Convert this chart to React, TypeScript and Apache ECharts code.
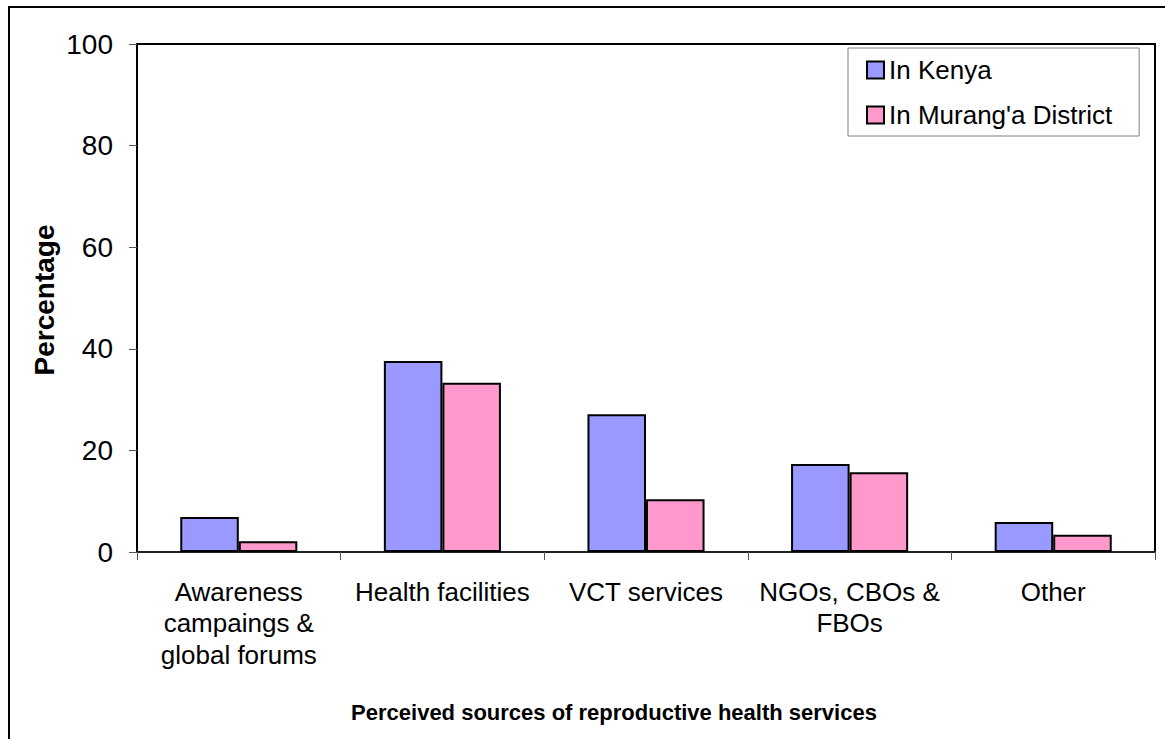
import React, { useEffect, useRef } from "react";
import * as echarts from "echarts";

const categories = [
  "Awareness\ncampaings &\nglobal forums",
  "Health facilities",
  "VCT services",
  "NGOs, CBOs &\nFBOs",
  "Other",
];
const seriesNames = ["In Kenya", "In Murang'a District"];
const kenya = [6.9, 37.6, 27.1, 17.3, 5.9];
const murangA = [2.1, 33.3, 10.4, 15.7, 3.4];
const yTicks = { min: 0, max: 100, interval: 20 };
const xTitle = "Perceived sources of reproductive health services";
const yTitle = "Percentage";

const FONT = "'Liberation Sans', Arial, Helvetica, sans-serif";

export default function App() {
  const ref = useRef<HTMLDivElement>(null);
  useEffect(() => {
    if (!ref.current) return;
    const chart = echarts.init(ref.current, undefined, { renderer: "svg" });
    chart.setOption({
      animation: false,
      backgroundColor: "#ffffff",
      textStyle: { fontFamily: FONT, color: "#000" },
      grid: {
        left: 137,
        right: 10,
        top: 44,
        bottom: 187,
        show: true,
        borderColor: "#000",
        borderWidth: 2,
        backgroundColor: "transparent",
      },
      legend: {
        orient: "vertical",
        left: 848,
        top: 48,
        padding: [7, 27, 6, 18],
        itemGap: 15,
        itemWidth: 17,
        itemHeight: 17,
        icon: "rect",
        backgroundColor: "#fff",
        borderColor: "#808080",
        borderWidth: 1,
        textStyle: { fontFamily: FONT, fontSize: 26, color: "#000", lineHeight: 30 },
        itemStyle: { borderColor: "#000", borderWidth: 2 },
        data: seriesNames,
      },
      xAxis: {
        type: "category",
        data: categories,
        axisLine: { show: true, lineStyle: { color: "#222", width: 2 } },
        axisTick: { show: true, length: 8, lineStyle: { color: "#555", width: 1 } },
        axisLabel: {
          interval: 0,
          margin: 24,
          fontFamily: FONT,
          fontSize: 26,
          lineHeight: 31.5,
          color: "#000",
          align: "center",
        },
        splitLine: { show: false },
      },
      yAxis: {
        type: "value",
        min: yTicks.min,
        max: yTicks.max,
        interval: yTicks.interval,
        axisLine: { show: true, lineStyle: { color: "#000", width: 2 } },
        axisTick: { show: true, length: 8, lineStyle: { color: "#555", width: 1 } },
        axisLabel: { margin: 24, fontFamily: FONT, fontSize: 28, color: "#000" },
        splitLine: { show: false },
      },
      series: [
        {
          name: seriesNames[0],
          type: "bar",
          data: kenya,
          barGap: "0%",
          barCategoryGap: "42.5%",
          itemStyle: { color: "#9999FF", borderColor: "#000", borderWidth: 2 },
        },
        {
          name: seriesNames[1],
          type: "bar",
          data: murangA,
          barGap: "0%",
          barCategoryGap: "42.5%",
          itemStyle: { color: "#FF99CC", borderColor: "#000", borderWidth: 2 },
        },
      ],
      graphic: [
        {
          type: "rect",
          z: 100,
          silent: true,
          shape: { x: 9, y: 7, width: 1300, height: 900 },
          style: { fill: "none", stroke: "#000", lineWidth: 2 },
        },
        {
          type: "text",
          x: 44,
          y: 300,
          rotation: Math.PI / 2,
          style: {
            text: yTitle,
            fontFamily: FONT,
            fontSize: 28,
            fontWeight: "bold",
            fill: "#000",
            textAlign: "center",
            textVerticalAlign: "middle",
          },
        },
        {
          type: "text",
          x: 614,
          y: 712,
          style: {
            text: xTitle,
            fontFamily: FONT,
            fontSize: 22,
            fontWeight: "bold",
            fill: "#000",
            textAlign: "center",
            textVerticalAlign: "middle",
          },
        },
      ],
    });
    return () => chart.dispose();
  }, []);
  return (
    <div
      ref={ref}
      style={{ position: "fixed", left: 0, top: 0, width: 1165, height: 739 }}
    />
  );
}
